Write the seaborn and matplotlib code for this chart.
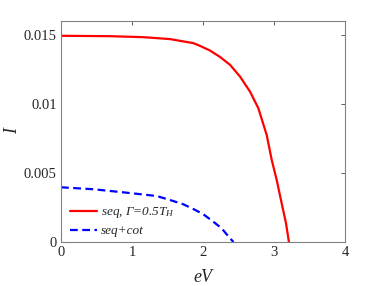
import numpy as np
import pandas as pd
import matplotlib
matplotlib.use("Agg")
import matplotlib.pyplot as plt
import seaborn as sns

# Data
seq_ev = [0.0, 0.69, 1.16, 1.535, 1.863, 1.958, 2.099, 2.239, 2.380, 2.521, 2.662, 2.779,
          2.897, 2.968, 3.038, 3.108, 3.169, 3.21]
seq_i = [0.01493, 0.01490, 0.01483, 0.01469, 0.01440, 0.01420, 0.01386, 0.01340, 0.01283,
         0.01198, 0.01089, 0.00969, 0.00775, 0.00594, 0.00449, 0.00280, 0.00136, 0.0]
cot_ev = [0.0, 0.455, 0.925, 1.348, 1.535, 1.723, 1.863, 2.004, 2.145, 2.263, 2.380, 2.43]
cot_i = [0.00396, 0.00382, 0.00357, 0.00333, 0.00304, 0.00273, 0.00239, 0.00201,
         0.00147, 0.00099, 0.00027, 0.0]

x_ticks = [0, 1, 2, 3, 4]
y_ticks = [0, 0.005, 0.01, 0.015]
y_tick_labels = ["0", "0.005", "0.01", "0.015"]

sns.set_style("white")
plt.rcParams['font.family'] = ['Liberation Serif', 'DejaVu Serif']
plt.rcParams['mathtext.fontset'] = 'custom'
plt.rcParams['mathtext.it'] = 'Liberation Serif:italic'
plt.rcParams['mathtext.rm'] = 'Liberation Serif'

fig = plt.figure(figsize=(3.82, 2.86), dpi=100)
ax = fig.add_axes([61/382, 1 - 242/286, (345-61)/382, (242-21)/286])

df1 = pd.DataFrame({"eV": seq_ev, "I": seq_i})
df2 = pd.DataFrame({"eV": cot_ev, "I": cot_i})
sns.lineplot(data=df1, x="eV", y="I", ax=ax, color="#ff0000", lw=1.6,
             label="seq, Γ=0.5$T_H$", sort=False)
sns.lineplot(data=df2, x="eV", y="I", ax=ax, color="#0000ff", lw=1.6,
             linestyle=(0, (3.5, 2)), label="seq+cot", sort=False)
for ln in ax.get_lines():
    ln.set_solid_joinstyle("round")
    ln.set_dash_joinstyle("round")

ax.set_xlim(0, 4)
ax.set_ylim(0, 0.016)
ax.set_xticks(x_ticks)
ax.set_xticklabels([str(t) for t in x_ticks])
ax.set_yticks(y_ticks)
ax.set_yticklabels(y_tick_labels)
ax.tick_params(direction="in", length=3, width=0.6, colors="#404040",
               labelcolor="#262626", labelsize=10.5, top=True, right=True,
               pad=3)
for s in ax.spines.values():
    s.set_color("#808080")
    s.set_linewidth(0.8)

ax.set_xlabel("eV", fontstyle="italic", fontsize=13, color="#262626", labelpad=7)
ax.set_ylabel("I", fontstyle="italic", fontsize=13, color="#262626", labelpad=2)

leg = ax.legend(loc="lower left", frameon=False,
                prop={"style": "italic", "size": 9.5},
                handlelength=2.0, handletextpad=0.3, labelspacing=0.35,
                bbox_to_anchor=(0.0, -0.02), borderaxespad=0.3)

fig.savefig("out.png", dpi=100)
